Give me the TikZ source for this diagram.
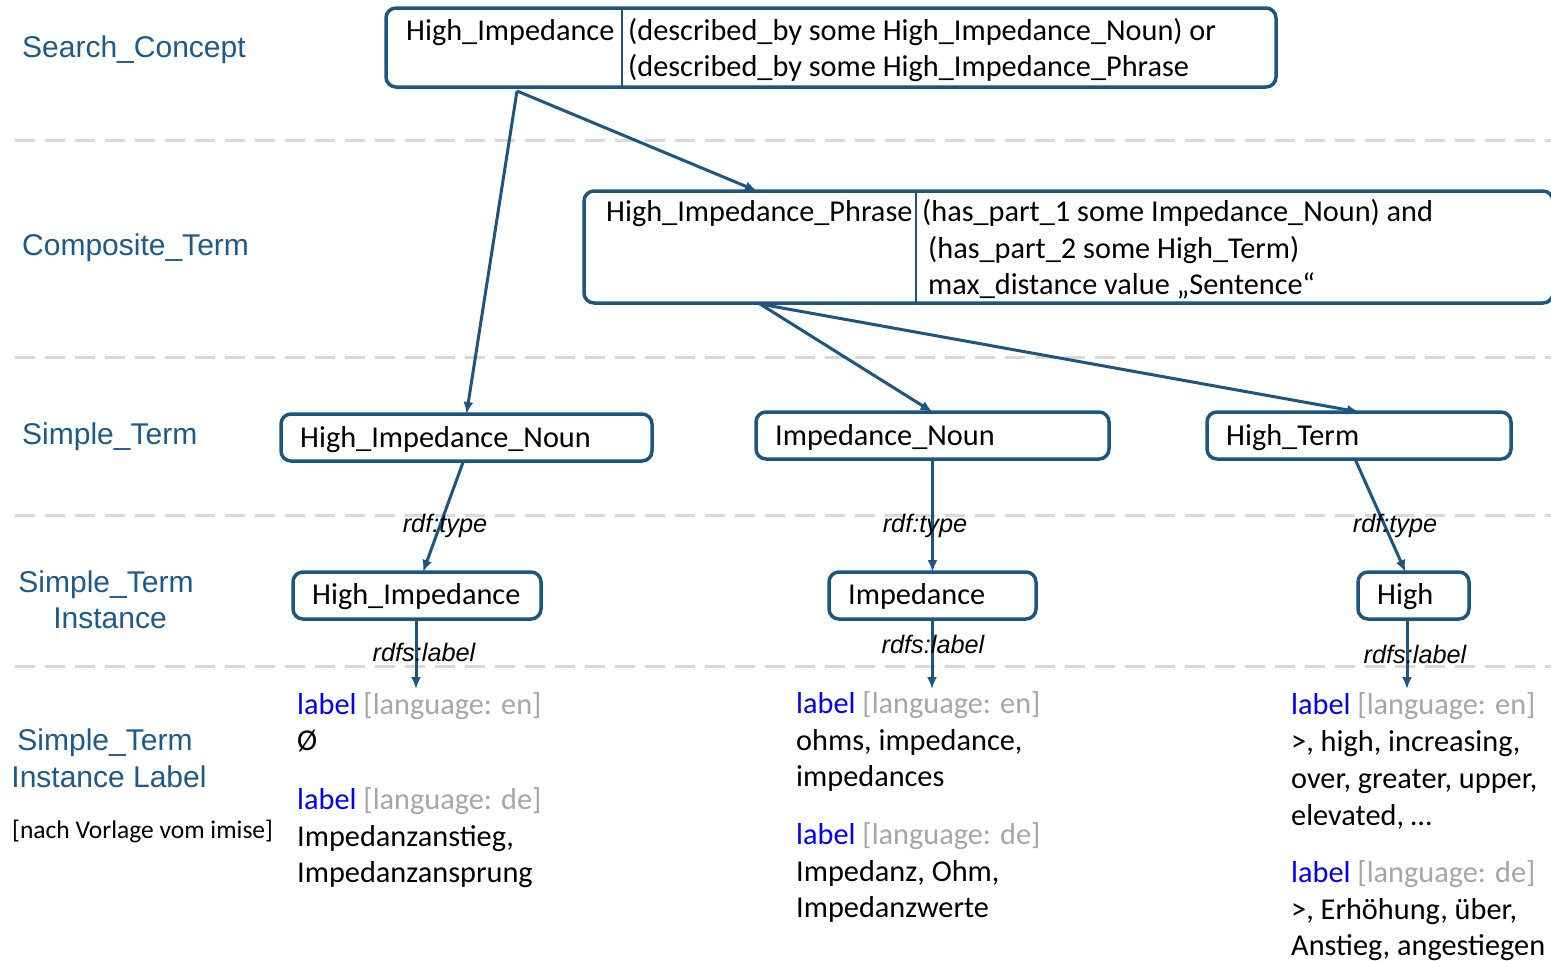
\documentclass[tikz,border=0pt]{standalone}
\usepackage{fontspec}
\setmainfont{Carlito}
\newfontfamily\arf{Liberation Sans}
\usetikzlibrary{arrows.meta}
\definecolor{boxblue}{RGB}{28,84,130}
\definecolor{lblblue}{RGB}{28,90,140}
\definecolor{dashgray}{RGB}{217,217,217}
\definecolor{langgray}{RGB}{166,166,166}
\definecolor{pureblue}{RGB}{0,0,255}
\begin{document}
\begin{tikzpicture}[x=1pt,y=-1pt,
  box/.style={draw=boxblue, line width=3.5pt, rounded corners=10pt, inner sep=0pt, outer sep=0pt, fill=white},
  txt/.style={anchor=base west, inner sep=0pt, font=\fontsize{30.3}{36}\selectfont},
  side/.style={inner sep=0pt, font=\arf\fontsize{30}{34}\selectfont, text=lblblue},
  rel/.style={inner sep=0pt, font=\arf\itshape\fontsize{25.3}{30}\selectfont},
  arr/.style={draw=boxblue, line width=3pt, -{Latex[length=12pt,width=10pt]}},
  sepline/.style={draw=dashgray, line width=3pt, dash pattern=on 20pt off 10pt},
  divline/.style={draw=boxblue, line width=2.5pt},
]
\useasboundingbox (0,0) rectangle (1551,961);
% separators
\draw[sepline] (15,140) -- (1551,140);
\draw[sepline] (15,357) -- (1551,357);
\draw[sepline] (15,515) -- (1551,515);
\draw[sepline] (15,666) -- (1551,666);

% side labels
\node[side, anchor=base west] (l1) at (22,57) {Search\_Concept};
\node[side, anchor=base west] (l2) at (22,255) {Composite\_Term};
\node[side, anchor=base west] (l3) at (22,444) {Simple\_Term};
\node[side, anchor=base] (l4a) at (106,592) {Simple\_Term};
\node[side, anchor=base] (l4b) at (110,628) {Instance};
\node[side, anchor=base] (l5a) at (105,750) {Simple\_Term};
\node[side, anchor=base] (l5b) at (109,787) {Instance Label};
\node[inner sep=0pt, anchor=base west, font=\fontsize{25.5}{30}\selectfont] (l6) at (12,838) {[nach Vorlage vom imise]};

% boxes
\node[box, minimum width=890pt, minimum height=79pt] (top) at (831,47.5) {};
\node[box, minimum width=969pt, minimum height=112pt] (comp) at (1068.5,247) {};
\node[box, minimum width=371pt, minimum height=47pt] (hin) at (466.5,437.5) {};
\node[box, minimum width=353pt, minimum height=47pt] (inoun) at (932.5,435.5) {};
\node[box, minimum width=304pt, minimum height=47pt] (hterm) at (1359,435.5) {};
\node[box, minimum width=248pt, minimum height=47pt] (hinst) at (417,595.5) {};
\node[box, minimum width=207pt, minimum height=47pt] (iinst) at (932.5,595.5) {};
\node[box, minimum width=111pt, minimum height=47pt] (highinst) at (1413.5,595.5) {};

\coordinate (d1) at (622,0);
\coordinate (d2) at (916,0);
\draw[divline] (top.north -| d1) -- (top.south -| d1);
\draw[divline] (comp.north -| d2) -- (comp.south -| d2);

% box texts
\node[txt] (t1a) at (406,40) {High\_Impedance};
\node[txt] (t1b) at (628,40) {(described\_by some High\_Impedance\_Noun) or};
\node[txt] (t1c) at (628,76) {(described\_by some High\_Impedance\_Phrase};
\node[txt] (t2a) at (606,221) {High\_Impedance\_Phrase};
\node[txt] (t2b) at (922,221) {(has\_part\_1 some Impedance\_Noun) and};
\node[txt] (t2c) at (928,258) {(has\_part\_2 some High\_Term)};
\node[txt] (t2d) at (928,294) {max\_distance value „Sentence“};
\node[txt] (t3a) at (300,447) {High\_Impedance\_Noun};
\node[txt] (t3b) at (775,445) {Impedance\_Noun};
\node[txt] (t3c) at (1226,445) {High\_Term};
\node[txt] (t4a) at (312,604) {High\_Impedance};
\node[txt] (t4b) at (848,604) {Impedance};
\node[txt] (t4c) at (1377,604) {High};

% connectors
\coordinate (s1) at (517,91);
\coordinate (s2) at (760,304);
\draw[arr] (s1) -- (hin.north);
\draw[arr] (s1) -- ([xshift=173pt]comp.north west);
\draw[arr] (s2) -- (inoun.north);
\draw[arr] (s2) -- (hterm.north);
\draw[arr] ([xshift=-3pt]hin.south) -- ([xshift=6pt]hinst.north);
\draw[arr] (inoun.south) -- (iinst.north);
\draw[arr] ([xshift=-4pt]hterm.south) -- ([xshift=-8pt]highinst.north);
\coordinate (e1) at (416,689);
\coordinate (e2) at (932,689);
\coordinate (e3) at (1407,689);
\draw[arr] ([xshift=-1pt]hinst.south) -- (e1);
\draw[arr] ([xshift=-0.5pt]iinst.south) -- (e2);
\draw[arr] ([xshift=-6.5pt]highinst.south) -- (e3);

\node[rel] (r1) at (445,526) {rdf:type};
\node[rel] (r2) at (925,526) {rdf:type};
\node[rel] (r3) at (1395,526) {rdf:type};
\node[rel] (r4) at (424,652) {rdfs:label};
\node[rel] (r5) at (933,644) {rdfs:label};
\node[rel] (r6) at (1415,654) {rdfs:label};

% label texts
\newcommand{\lbl}[1]{\textcolor{pureblue}{label} \textcolor{langgray}{[language: #1]}}
\node[txt] (a1) at (297,714) {\lbl{en}};
\node[txt] (a2) at (297,750) {Ø};
\node[txt] (a3) at (297,809) {\lbl{de}};
\node[txt] (a4) at (297,846) {Impedanzanstieg,};
\node[txt] (a5) at (297,882) {Impedanzansprung};

\node[txt] (b1) at (796,713) {\lbl{en}};
\node[txt] (b2) at (796,750) {ohms, impedance,};
\node[txt] (b3) at (796,786) {impedances};
\node[txt] (b4) at (796,844) {\lbl{de}};
\node[txt] (b5) at (796,881) {Impedanz, Ohm,};
\node[txt] (b6) at (796,917) {Impedanzwerte};

\node[txt] (c1) at (1291,714) {\lbl{en}};
\node[txt] (c2) at (1291,751) {>, high, increasing,};
\node[txt] (c3) at (1291,788) {over, greater, upper,};
\node[txt] (c4) at (1291,825) {elevated, …};
\node[txt] (c5) at (1291,882) {\lbl{de}};
\node[txt] (c6) at (1291,919) {>, Erhöhung, über,};
\node[txt] (c7) at (1291,955) {Anstieg, angestiegen};
\end{tikzpicture}
\end{document}
